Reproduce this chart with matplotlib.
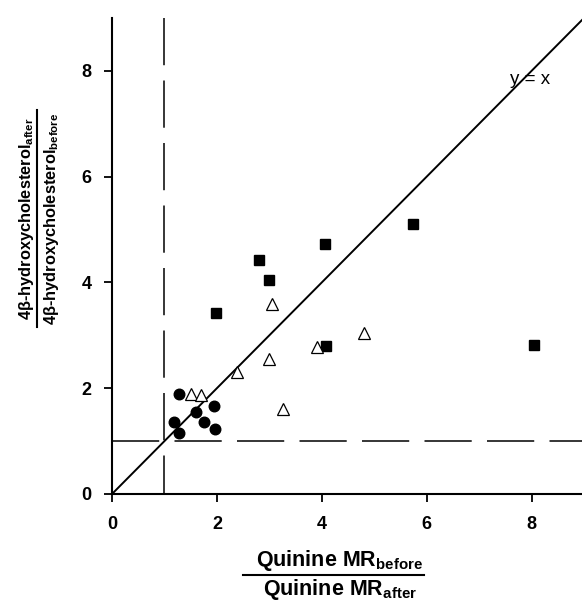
import matplotlib.pyplot as plt
from matplotlib.lines import Line2D

plt.rcParams['font.family'] = ['Liberation Sans', 'DejaVu Sans']
plt.rcParams['mathtext.default'] = 'regular'
plt.rcParams['lines.scale_dashes'] = False

# data
sq_x = [1.98, 2.81, 2.99, 4.07, 4.08, 5.74, 8.05]
sq_y = [3.42, 4.43, 4.04, 4.72, 2.79, 5.11, 2.81]

tri_x = [1.50, 1.69, 2.39, 3.06, 3.00, 3.26, 3.91, 4.80]
tri_y = [1.90, 1.88, 2.31, 3.60, 2.56, 1.60, 2.77, 3.05]

circ_x = [1.28, 1.18, 1.27, 1.61, 1.76, 1.95, 1.96]
circ_y = [1.89, 1.36, 1.16, 1.55, 1.36, 1.66, 1.23]

ticks = [0, 2, 4, 6, 8]
limit = 9
cutoff = 1

W, H = 582, 600
fig = plt.figure(figsize=(W / 100, H / 100), dpi=100)
ax = fig.add_axes([112 / W, 106 / H, 472 / W, 476 / H])

# reference lines
ax.plot([0, limit], [0, limit], color='black', lw=1.4, zorder=2)
ax.plot([cutoff, cutoff], [limit, 0], color='black', lw=1.1,
        dashes=(34, 11), zorder=1)
ax.plot([0, limit], [cutoff, cutoff], color='black', lw=1.1,
        dashes=(34, 11), zorder=1)

# points
ax.plot(sq_x, sq_y, 's', color='black', ms=7.2, zorder=3)
ax.plot(circ_x, circ_y, 'o', color='black', ms=7.6, zorder=3)
ax.plot(tri_x, tri_y, '^', mfc='white', mec='black', mew=0.9, ms=8, zorder=4)

ax.text(7.98, 7.83, 'y = x', fontsize=13.5, ha='center', va='center')

ax.set_xlim(0, limit)
ax.set_ylim(0, limit)
ax.set_xticks(ticks)
ax.set_yticks(ticks)
for side in ['top', 'right']:
    ax.spines[side].set_visible(False)
for side in ['left', 'bottom']:
    ax.spines[side].set_linewidth(1.5)
ax.tick_params(axis='both', direction='out', length=5.5, width=1.3, labelsize=13)
ax.tick_params(axis='x', pad=10)
ax.tick_params(axis='y', pad=9)
for lab in ax.get_xticklabels() + ax.get_yticklabels():
    lab.set_fontweight('bold')

# x label as a fraction
fig.text(340 / W, 1 - 566 / H, r'Quinine MR$_{before}$', fontsize=15.5,
         fontweight='bold', ha='center', va='baseline')
fig.text(340 / W, 1 - 594.5 / H, r'Quinine MR$_{after}$', fontsize=15.5,
         fontweight='bold', ha='center', va='baseline')
fig.add_artist(Line2D([243 / W, 424 / W], [1 - 575 / H, 1 - 575 / H],
                      color='black', lw=1.5, transform=fig.transFigure))

# y label as a fraction
fig.text(31 / W, 1 - 219 / H, r'4β-hydroxycholesterol$_{after}$', fontsize=11.8,
         fontweight='bold', rotation=90, rotation_mode='anchor',
         ha='center', va='baseline')
fig.text(56 / W, 1 - 219 / H, r'4β-hydroxycholesterol$_{before}$', fontsize=11.8,
         fontweight='bold', rotation=90, rotation_mode='anchor',
         ha='center', va='baseline')
fig.add_artist(Line2D([37 / W, 37 / W], [1 - 110 / H, 1 - 327 / H],
                      color='black', lw=1.5, transform=fig.transFigure))

fig.savefig('out.png', dpi=100)
